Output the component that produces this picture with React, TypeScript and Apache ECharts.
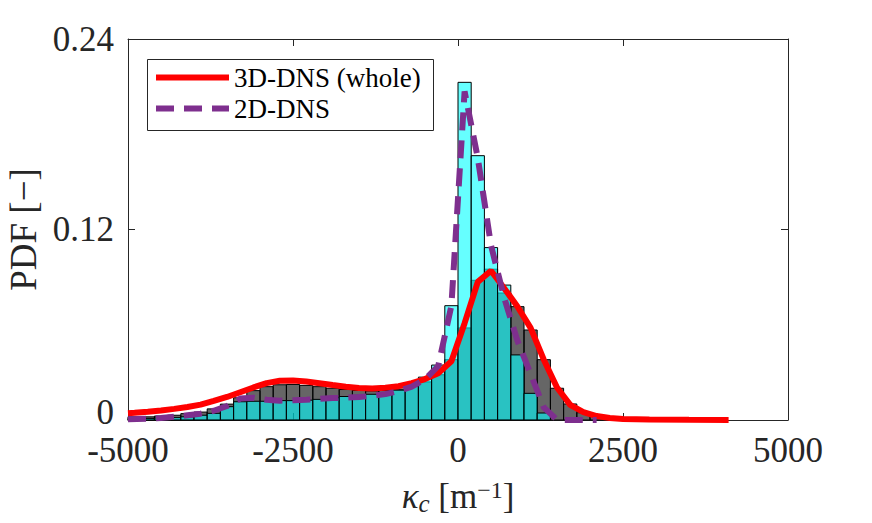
import React, { useEffect, useRef } from "react";
import * as echarts from "echarts";

// ---- data ----
const binCenters = [
  -4900, -4700, -4500, -4300, -4100, -3900, -3700, -3500, -3300, -3100,
  -2900, -2700, -2500, -2300, -2100, -1900, -1700, -1500, -1300, -1100,
  -900, -700, -500, -300, -100, 100, 300, 500, 700, 900,
  1100, 1300, 1500, 1700, 1900, 2100, 2300, 2500,
];
const BIN_WIDTH = 200;

// 3D-DNS histogram (grey)
const hist3D = [
  0.0020, 0.0020, 0.0025, 0.0030, 0.0040, 0.0050, 0.0070, 0.0100, 0.0140, 0.0185,
  0.0210, 0.0222, 0.0224, 0.0218, 0.0210, 0.0200, 0.0192, 0.0186, 0.0183, 0.0186,
  0.0195, 0.0212, 0.0240, 0.0285, 0.0380, 0.0580, 0.0880, 0.0950, 0.0800, 0.0714,
  0.0567, 0.0380, 0.0200, 0.0101, 0.0046, 0.0022, 0.0010, 0.0005,
];

// 2D-DNS histogram (cyan)
const hist2D = [
  0.0010, 0.0010, 0.0012, 0.0015, 0.0020, 0.0030, 0.0042, 0.0084, 0.0115, 0.0118,
  0.0118, 0.0122, 0.0122, 0.0125, 0.0130, 0.0140, 0.0148, 0.0155, 0.0162, 0.0168,
  0.0188, 0.0212, 0.0270, 0.0346, 0.0720, 0.2127, 0.1665, 0.1086, 0.0850, 0.0410,
  0.0168, 0.0044, 0.0, 0.0, 0.0, 0.0, 0.0, 0.0,
];

// 3D-DNS (whole) PDF line
const line3DX = [
  -5000, -4900, -4700, -4500, -4300, -4100, -3900, -3700, -3500, -3300, -3100,
  -2900, -2700, -2500, -2300, -2100, -1900, -1700, -1500, -1300, -1100,
  -900, -700, -500, -300, -100, 100, 300, 500, 700, 900,
  1100, 1300, 1500, 1700, 1900, 2100, 2300, 2500, 2900, 3500, 4100,
];
const line3DY = [
  0.0042, 0.0045, 0.0052, 0.0060, 0.0070, 0.0082, 0.0097, 0.0120, 0.0145, 0.0175, 0.0205,
  0.0232, 0.0247, 0.0249, 0.0243, 0.0232, 0.0220, 0.0210, 0.0202, 0.0198, 0.0203,
  0.0213, 0.0232, 0.0258, 0.0295, 0.0370, 0.0610, 0.0870, 0.0940, 0.0830, 0.0715,
  0.0580, 0.0380, 0.0205, 0.0095, 0.0050, 0.0025, 0.0013, 0.0007, 0.0003, 0.0001, 0.0,
];

// 2D-DNS PDF line
const line2DX = [
  -5000, -4700, -4500, -4300, -4100, -3900, -3700, -3500, -3300, -3100,
  -2900, -2700, -2500, -2300, -2100, -1900, -1700, -1500, -1300, -1100,
  -900, -700, -500, -300, -100, 100, 300, 500, 700, 900,
  1100, 1300, 1500, 1700, 1900, 2100,
];
const line2DY = [
  0.0005, 0.0008, 0.0012, 0.0020, 0.0030, 0.0040, 0.0058, 0.0088, 0.0135, 0.0140,
  0.0127, 0.0122, 0.0124, 0.0128, 0.0133, 0.0138, 0.0141, 0.0145, 0.0152, 0.0163,
  0.0183, 0.0210, 0.0255, 0.0340, 0.0720, 0.2070, 0.1650, 0.1100, 0.0770, 0.0500,
  0.0290, 0.0080, 0.0, 0.0, 0.0, 0.0,
];

const xTicks = [-5000, -2500, 0, 2500, 5000];
const yTicks = [0, 0.12, 0.24];
const seriesNames = ["3D-DNS (whole)", "2D-DNS"];

const FONT = "Liberation Serif";
const AX = "#262626";
const RED = "#FF0000";
const PURPLE = "#7E2F8E";
const DASH = [18, 10];

export default function App() {
  const ref = useRef<HTMLDivElement>(null);

  useEffect(() => {
    if (!ref.current) return;
    const chart = echarts.init(ref.current, undefined, { renderer: "svg" });

    const histData = (vals: number[]) =>
      binCenters.map((c, i) => [c - BIN_WIDTH / 2, c + BIN_WIDTH / 2, vals[i]]);

    const histSeries = (name: string, vals: number[], fill: string) => ({
      type: "custom",
      name,
      data: histData(vals),
      encode: { x: [0, 1], y: 2 },
      z: 2,
      renderItem: (params: any, api: any) => {
        const x0 = api.value(0);
        const x1 = api.value(1);
        const h = api.value(2);
        if (!(h > 0)) return null;
        const p0 = api.coord([x0, 0]);
        const p1 = api.coord([x1, h]);
        return {
          type: "rect",
          shape: { x: p0[0], y: p1[1], width: p1[0] - p0[0], height: p0[1] - p1[1] },
          style: { fill, stroke: "#000", lineWidth: 1 },
        };
      },
    });

    const tickCommon = {
      axisLine: { show: true, onZero: false, lineStyle: { color: AX, width: 1 } },
      axisTick: { show: true, inside: true, length: 7, lineStyle: { color: AX, width: 1 } },
      splitLine: { show: false },
    };

    const option: any = {
      animation: false,
      grid: {
        left: 128,
        top: 39,
        width: 660,
        height: 381,
        containLabel: false,
        outerBoundsMode: "none",
      },
      legend: {
        data: [
          { name: seriesNames[0], lineStyle: { width: 6, color: RED } },
          { name: seriesNames[1], lineStyle: { width: 6, color: PURPLE, type: DASH } },
        ],
        orient: "vertical",
        left: 153,
        top: 64,
        padding: 0,
        itemGap: 4,
        itemWidth: 73,
        itemHeight: 27,
        selectedMode: false,
        itemStyle: { opacity: 0, borderWidth: 0 },
        textStyle: { fontFamily: FONT, fontSize: 27, color: "#000" },
        z: 5,
      },
      graphic: [
        {
          type: "rect",
          z: 3,
          shape: { x: 147.5, y: 59.5, width: 286, height: 71 },
          style: { fill: "#fff", stroke: AX, lineWidth: 1 },
        },
      ],
      xAxis: [
        {
          type: "value",
          position: "bottom",
          min: xTicks[0],
          max: xTicks[xTicks.length - 1],
          interval: xTicks[1] - xTicks[0],
          ...tickCommon,
          axisLabel: {
            margin: 13,
            fontFamily: FONT,
            fontSize: 35,
            color: AX,
            formatter: (v: number) => String(v),
          },
          name: "{k|κ}{c|c}{n| [m}{s|−1}{n|]}",
          nameLocation: "middle",
          nameGap: 56,
          nameTextStyle: {
            fontFamily: FONT,
            fontSize: 35,
            color: AX,
            rich: {
              k: { fontFamily: FONT, fontSize: 35, fontStyle: "italic", color: AX },
              c: { fontFamily: FONT, fontSize: 25, fontStyle: "italic", color: AX, padding: [15, 0, 0, 0] },
              n: { fontFamily: FONT, fontSize: 35, color: AX },
              s: { fontFamily: FONT, fontSize: 24, color: AX, padding: [0, 0, 13, 0] },
            },
          },
        },
        {
          type: "value",
          position: "top",
          min: xTicks[0],
          max: xTicks[xTicks.length - 1],
          interval: xTicks[1] - xTicks[0],
          ...tickCommon,
          axisLabel: { show: false },
        },
      ],
      yAxis: [
        {
          type: "value",
          position: "left",
          min: yTicks[0],
          max: yTicks[yTicks.length - 1],
          interval: yTicks[1] - yTicks[0],
          ...tickCommon,
          axisLabel: {
            margin: 14,
            fontFamily: FONT,
            fontSize: 35,
            color: AX,
            formatter: (v: number) => (v === 0 ? "{z|0}" : v.toFixed(2)),
            rich: {
              z: { fontFamily: FONT, fontSize: 35, color: AX, padding: [0, 0, 16, 0] },
            },
          },
          name: "PDF [−]",
          nameLocation: "middle",
          nameRotate: 90,
          nameGap: 84,
          nameTextStyle: { fontFamily: FONT, fontSize: 37, color: AX },
        },
        {
          type: "value",
          position: "right",
          min: yTicks[0],
          max: yTicks[yTicks.length - 1],
          interval: yTicks[1] - yTicks[0],
          ...tickCommon,
          axisLabel: { show: false },
        },
      ],
      series: [
        histSeries("hist3D", hist3D, "rgba(0,0,0,0.6)"),
        histSeries("hist2D", hist2D, "rgba(0,255,255,0.6)"),
        {
          type: "line",
          name: seriesNames[0],
          data: line3DX.map((x, i) => [x, line3DY[i]]),
          symbol: "none",
          z: 3,
          lineStyle: { color: RED, width: 6 },
          itemStyle: { color: RED },
        },
        {
          type: "line",
          name: seriesNames[1],
          data: line2DX.map((x, i) => [x, line2DY[i]]),
          symbol: "none",
          z: 4,
          lineStyle: { color: PURPLE, width: 6, type: DASH },
          itemStyle: { color: PURPLE },
        },
      ],
    };

    chart.setOption(option);
    return () => chart.dispose();
  }, []);

  return (
    <div
      ref={ref}
      style={{ position: "absolute", left: 0, top: 0, width: 872, height: 523, background: "#fff" }}
    />
  );
}
